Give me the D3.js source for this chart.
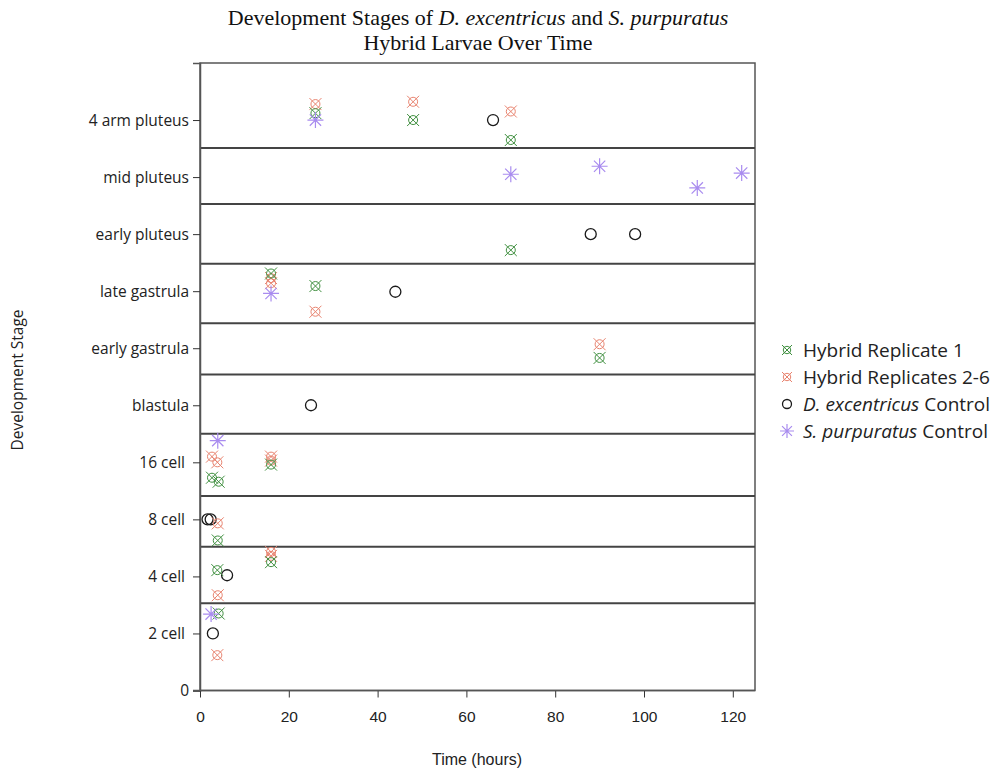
<!DOCTYPE html>
<html lang="en">
<head>
  <meta charset="UTF-8">
  <title>Development Stages</title>
  <style>
    body { margin: 0; background: #fff; }
  </style>
</head>
<body>

  <svg id="svg" width="1007" height="770"></svg>

  <script src="https://d3js.org/d3.v7.min.js"></script>
  <script>
    // stage names for y = 1..10 (0 is a plain "0")
    const stages = ['0', '2 cell\u00a0', '4 cell\u00a0', '8 cell\u00a0', '16 cell\u00a0', 'blastula', 'early gastrula',
      'late gastrula', 'early pluteus', 'mid pluteus', '4 arm pluteus']
    const yTicks = [0, 1, 2, 3, 4, 5, 6, 7, 8, 9, 10]
    const xTicks = [0, 20, 40, 60, 80, 100, 120]

    // dividers between stage rows (as drawn in the original)
    const bandLines = [1.53, 2.52, 3.41, 4.5, 5.54, 6.44, 7.48, 8.53, 9.51]

    // [hours, stage position]
    const hybrid1 = [
      [26, 10.12], [48, 10.0], [70, 9.65], [70, 7.72], [16, 7.31], [26, 7.09], [90, 5.83],
      [2.7, 3.73], [4.2, 3.66], [16, 3.96], [4, 2.63], [3.9, 2.11], [16, 2.25], [4.2, 1.35]
    ]
    const hybrid26 = [
      [26, 10.28], [48, 10.32], [70, 10.15], [16, 7.23], [16, 7.14], [26, 6.64], [90, 6.07],
      [2.7, 4.10], [3.9, 4.00], [16, 4.10], [16, 4.03], [4, 2.93], [16, 2.43], [16, 2.36],
      [4, 1.67], [3.9, 0.62]
    ]
    const dexControl = [
      [66, 10.0], [88, 8.0], [98, 8.0], [44, 6.99], [25, 5.0], [1.7, 3.0], [2.4, 3.0],
      [6.1, 2.02], [2.9, 1.0]
    ]
    const spurControl = [
      [26, 10.0], [70, 9.05], [90, 9.19], [112, 8.81], [122, 9.07], [16, 6.96], [4, 4.38], [2.5, 1.34]
    ]

    const legendNames = [
      ['Hybrid Replicate 1', ''],
      ['Hybrid Replicates 2-6', ''],
      ['D. excentricus', ' Control'],
      ['S. purpuratus', ' Control']
    ]

    const green = '#3f8f3f'
    const salmon = '#e8836f'
    const purple = '#a98cef'

    const svg = d3.select('#svg')

    const xScale = d3.scaleLinear()
      .domain([0, 125])
      .range([200, 755])

    const yScale = d3.scaleLinear()
      .domain([0, 11])
      .range([690.5, 63])

    // --------------- frame + row dividers ---------------
    svg.append('rect')
      .attr('x', xScale(0))
      .attr('y', yScale(11))
      .attr('width', xScale(125) - xScale(0))
      .attr('height', yScale(0) - yScale(11))
      .attr('fill', 'none')
      .attr('stroke', '#555')
      .attr('stroke-width', 1.5)

    svg.append('g')
      .selectAll('line')
      .data(bandLines)
      .enter()
      .append('line')
      .attr('x1', xScale(0))
      .attr('x2', xScale(125))
      .attr('y1', d => yScale(d))
      .attr('y2', d => yScale(d))
      .attr('stroke', '#444')
      .attr('stroke-width', 2)

    // --------------- axes ---------------
    const yAxis = svg.append('g')
      .attr('transform', `translate(${xScale(0)},0)`)
      .call(d3.axisLeft(yScale).tickValues(yTicks).tickSize(7).tickPadding(4)
        .tickFormat(d => stages[d]))
    yAxis.select('.domain').attr('stroke', '#555').attr('stroke-width', 1.5)
    yAxis.selectAll('.tick line').attr('stroke', '#333')
    yAxis.selectAll('text')
      .style('font-family', '"Open Sans", sans-serif')
      .style('font-size', '15.5px')
      .attr('fill', '#222')
      .style('white-space', 'pre')

    const xAxis = svg.append('g')
      .attr('transform', `translate(0,${yScale(0)})`)
      .call(d3.axisBottom(xScale).tickValues(xTicks).tickSize(7).tickPadding(13))
    xAxis.select('.domain').remove()
    xAxis.selectAll('.tick line').attr('stroke', '#333')
    xAxis.selectAll('text')
      .style('font-family', '"Liberation Sans", Arial, sans-serif')
      .style('font-size', '15.5px')
      .attr('fill', '#222')

    svg.append('line')
      .attr('x1', 193).attr('x2', xScale(125))
      .attr('y1', yScale(0)).attr('y2', yScale(0))
      .attr('stroke', '#555').attr('stroke-width', 1.5)

    // --------------- titles ---------------
    const title = svg.append('text')
      .attr('x', 478)
      .attr('text-anchor', 'middle')
      .style('font-family', '"Liberation Serif", "Times New Roman", serif')
      .style('font-size', '22px')
      .attr('fill', '#111')
    const t1 = title.append('tspan').attr('x', 478).attr('y', 25)
    t1.append('tspan').text('Development Stages of ')
    t1.append('tspan').style('font-style', 'italic').text('D. excentricus')
    t1.append('tspan').text(' and ')
    t1.append('tspan').style('font-style', 'italic').text('S. purpuratus')
    title.append('tspan').attr('x', 478).attr('y', 50).text('Hybrid Larvae Over Time')

    svg.append('text')
      .attr('x', 477)
      .attr('y', 765)
      .attr('text-anchor', 'middle')
      .style('font-family', '"Liberation Sans", Arial, sans-serif')
      .style('font-size', '16px')
      .attr('fill', '#222')
      .text('Time (hours)')

    svg.append('text')
      .attr('transform', 'translate(23,380) rotate(-90)')
      .attr('text-anchor', 'middle')
      .style('font-family', '"Open Sans", sans-serif')
      .style('font-size', '15.5px')
      .attr('fill', '#222')
      .text('Development Stage')

    // --------------- markers ---------------
    function crossCircle(g, color, r) {
      g.append('circle').attr('r', r * 0.75).attr('fill', 'none').attr('stroke', color).attr('stroke-width', 1)
      g.append('path')
        .attr('d', `M${-r},${-r}L${r},${r}M${-r},${r}L${r},${-r}`)
        .attr('stroke', color).attr('stroke-width', 1).attr('fill', 'none')
    }
    function openCircle(g, r) {
      g.append('circle').attr('r', r).attr('fill', 'none').attr('stroke', '#1a1a1a').attr('stroke-width', 1.3)
    }
    function asterisk(g, r) {
      const d = r * Math.SQRT1_2
      g.append('path')
        .attr('d', `M${-r},0L${r},0M0,${-r}L0,${r}M${-d},${-d}L${d},${d}M${-d},${d}L${d},${-d}`)
        .attr('stroke', purple).attr('stroke-width', 1.2).attr('fill', 'none')
    }

    function plotSeries(data, draw) {
      svg.append('g')
        .selectAll('g')
        .data(data)
        .enter()
        .append('g')
        .attr('transform', d => `translate(${xScale(d[0])},${yScale(d[1])})`)
        .each(function () { draw(d3.select(this)) })
    }

    plotSeries(dexControl, g => openCircle(g, 5.5))
    plotSeries(hybrid26, g => crossCircle(g, salmon, 6))
    plotSeries(hybrid1, g => crossCircle(g, green, 6))
    plotSeries(spurControl, g => asterisk(g, 8))

    // --------------- legend ---------------
    const legendDraw = [
      g => crossCircle(g, green, 5),
      g => crossCircle(g, salmon, 5),
      g => openCircle(g, 4.5),
      g => asterisk(g, 7)
    ]

    const legend = svg.append('g')
      .selectAll('g')
      .data(legendNames)
      .enter()
      .append('g')
      .attr('transform', (d, i) => `translate(787,${350 + i * 27})`)

    legend.each(function (d, i) { legendDraw[i](d3.select(this)) })

    const legendText = legend.append('text')
      .attr('x', 16)
      .attr('y', 7)
      .style('font-family', '"Open Sans", sans-serif')
      .style('font-size', '19px')
      .attr('fill', '#222')
    legendText.append('tspan')
      .style('font-style', (d, i) => i >= 2 ? 'italic' : 'normal')
      .text(d => d[0])
    legendText.append('tspan').text(d => d[1])
  </script>
</body>
</html>
